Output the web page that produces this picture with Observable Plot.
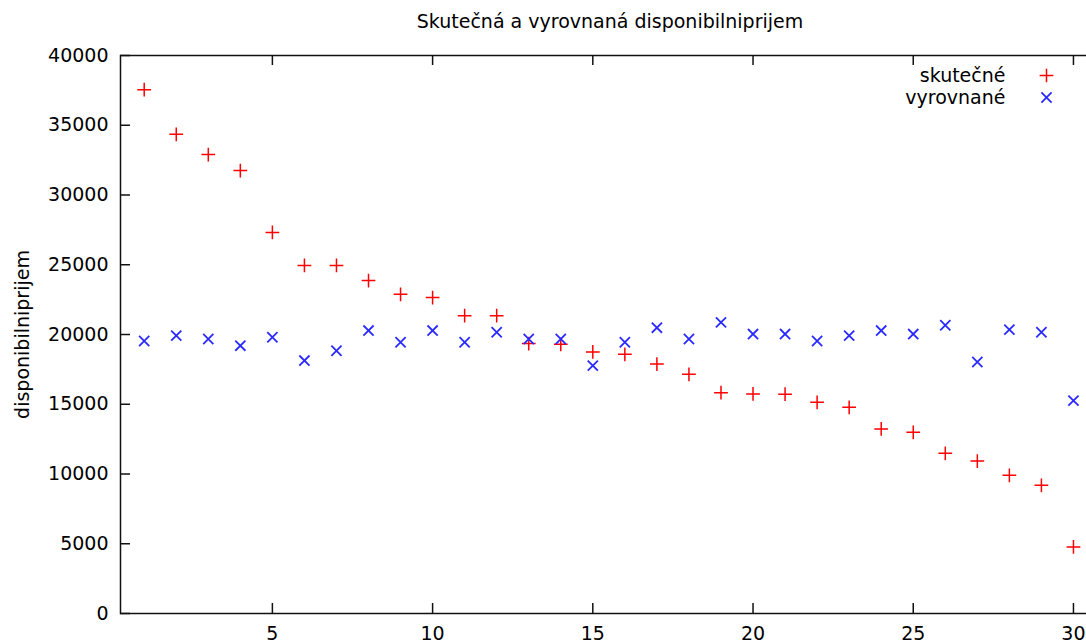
<!DOCTYPE html>
<html><head><meta charset="utf-8">
<script src="https://cdn.jsdelivr.net/npm/d3@7"></script>
<script src="https://cdn.jsdelivr.net/npm/@observablehq/plot@0.6"></script>
<style>html,body{margin:0;padding:0;overflow:hidden;background:#fff;width:1086px;height:643px}
#chart svg{max-width:none !important;height:643px !important;}</style>
</head><body><div id="chart"></div>
<script>
const title = "Skutečná a vyrovnaná disponibilniprijem";
const yLabel = "disponibilniprijem";
const seriesNames = ["skutečné", "vyrovnané"];
const obs = [1,2,3,4,5,6,7,8,9,10,11,12,13,14,15,16,17,18,19,20,21,22,23,24,25,26,27,28,29,30];
const skutecne = [37550,34350,32900,31750,27320,24950,24950,23870,22880,22650,21350,21350,19350,19300,18750,18580,17880,17150,15830,15740,15720,15140,14780,13230,12990,11480,10930,9910,9190,4770];
const vyrovnane = [19530,19920,19680,19200,19800,18130,18840,20280,19440,20280,19440,20160,19680,19680,17770,19440,20490,19680,20870,20030,20030,19530,19920,20280,20030,20660,18030,20350,20160,15260];
const xTicks = [5,10,15,20,25,30];
const yTicks = [0,5000,10000,15000,20000,25000,30000,35000,40000];

const red = "#ff0000", blue = "#2a2aff", axisColor = "#111";
const W = 1110, H = 643, mL = 120, mR = 5, mT = 55, mB = 30;
const plotW = W - mL - mR, plotH = H - mT - mB;
const tick = 10;
const fs = 19;

const dataA = obs.map((x, i) => ({x, y: skutecne[i]}));
const dataB = obs.map((x, i) => ({x, y: vyrovnane[i]}));

const plot = Plot.plot({
  width: W, height: H,
  marginLeft: mL, marginRight: mR, marginTop: mT, marginBottom: mB,
  style: {fontFamily: "DejaVu Sans", fontSize: fs + "px", color: "#000", background: "#fff", maxWidth: "none"},
  x: {domain: [0.26, 31]},
  y: {domain: [0, 40000]},
  marks: [
    Plot.frame({stroke: axisColor, strokeWidth: 1.5}),
    Plot.tickX(xTicks, {x: d => d, insetTop: plotH - tick, stroke: axisColor, strokeWidth: 1.5}),
    Plot.tickX(xTicks, {x: d => d, insetBottom: plotH - tick, stroke: axisColor, strokeWidth: 1.5}),
    Plot.tickY(yTicks, {y: d => d, insetRight: plotW - tick, stroke: axisColor, strokeWidth: 1.5}),
    Plot.tickY(yTicks, {y: d => d, insetLeft: plotW - tick, stroke: axisColor, strokeWidth: 1.5}),
    Plot.axisX(xTicks, {tickSize: 0, tickPadding: 13, label: null, tickFormat: d3.format("d"), fontSize: fs}),
    Plot.axisY(yTicks, {tickSize: 0, tickPadding: 12, label: null, tickFormat: d3.format("d"), fontSize: fs}),
    Plot.dot(dataA, {x: "x", y: "y", symbol: "plus", r: 4.5, stroke: red, strokeWidth: 1.5}),
    Plot.dot(dataB, {x: "x", y: "y", symbol: "times", r: 4.7, stroke: blue, strokeWidth: 1.8}),
    Plot.text([title], {frameAnchor: "top", text: d => d, dx: -3, dy: -34, lineAnchor: "middle", textAnchor: "middle", fontSize: fs, fill: "#000"}),
    Plot.text([yLabel], {frameAnchor: "left", text: d => d, dx: -98, rotate: -90, textAnchor: "middle", lineAnchor: "middle", fontSize: fs, fill: "#000"}),
    Plot.text([seriesNames[0]], {frameAnchor: "top-left", text: d => d, dx: 885, dy: 20, textAnchor: "end", lineAnchor: "middle", fontSize: fs, fill: "#000"}),
    Plot.text([seriesNames[1]], {frameAnchor: "top-left", text: d => d, dx: 885, dy: 42, textAnchor: "end", lineAnchor: "middle", fontSize: fs, fill: "#000"}),
    Plot.dot([seriesNames[0]], {frameAnchor: "top-left", dx: 926, dy: 20, symbol: "plus", r: 4.5, stroke: red, strokeWidth: 1.5}),
    Plot.dot([seriesNames[1]], {frameAnchor: "top-left", dx: 926, dy: 42, symbol: "times", r: 4.7, stroke: blue, strokeWidth: 1.8})
  ]
});
document.getElementById("chart").appendChild(plot);
</script>
</body></html>
